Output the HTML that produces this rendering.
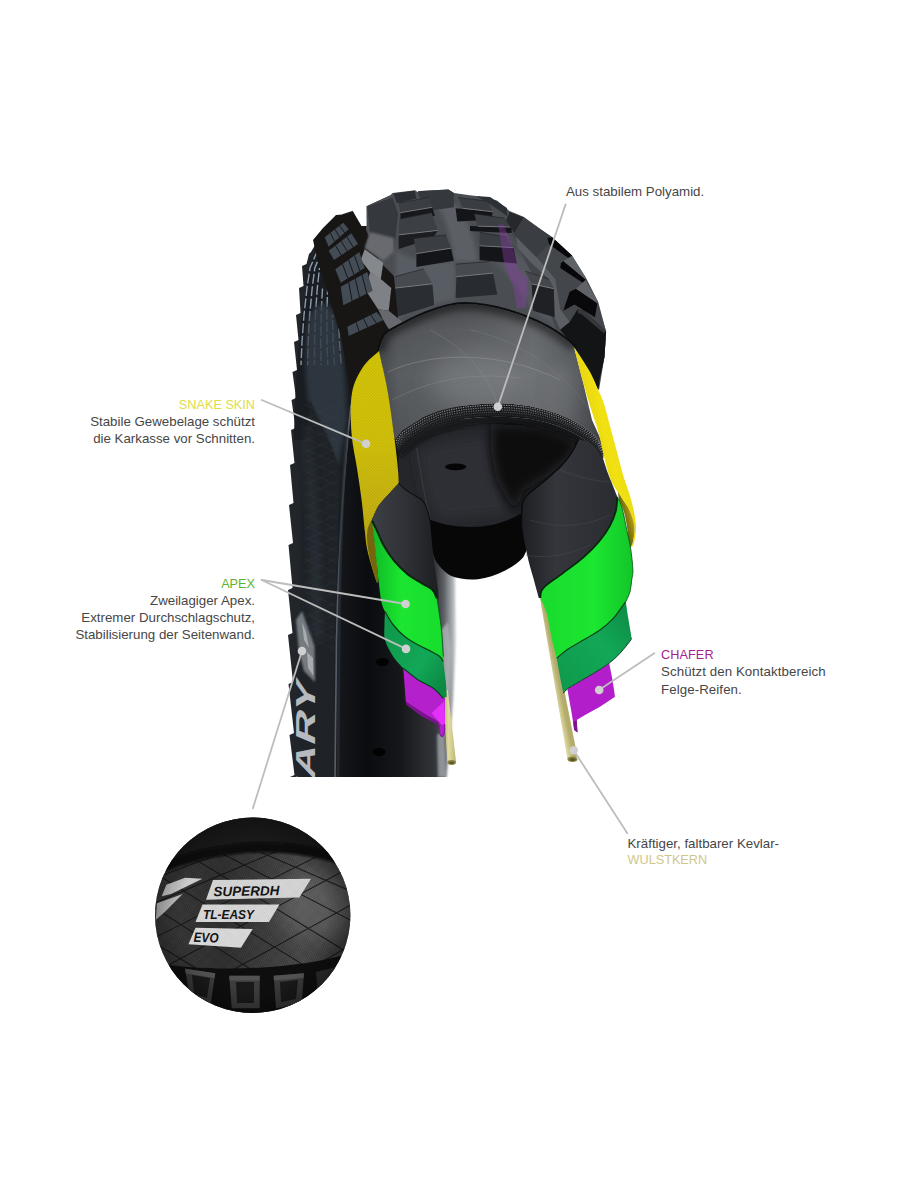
<!DOCTYPE html>
<html lang="de">
<head>
<meta charset="utf-8">
<title>Reifenaufbau</title>
<style>
html,body{margin:0;padding:0;background:#fff;}
#stage{position:relative;width:900px;height:1200px;overflow:hidden;background:#fff;font-family:"Liberation Sans",sans-serif;}
#stage svg{position:absolute;left:0;top:0;}
.lbl{position:absolute;font-size:13.3px;line-height:17.1px;color:#464646;white-space:nowrap;}
.r{text-align:right;}
.hd{display:block;font-size:12.7px;line-height:16.3px;}
</style>
</head>
<body>
<div id="stage">
<svg width="900" height="1200" viewBox="0 0 900 1200">
<defs>
<filter id="b1" x="-20%" y="-20%" width="140%" height="140%"><feGaussianBlur stdDeviation="1"/></filter>
<filter id="b2" x="-20%" y="-20%" width="140%" height="140%"><feGaussianBlur stdDeviation="2"/></filter>
<filter id="b3" x="-30%" y="-30%" width="160%" height="160%"><feGaussianBlur stdDeviation="3.5"/></filter>
<filter id="b6" x="-40%" y="-40%" width="180%" height="180%"><feGaussianBlur stdDeviation="6"/></filter>
<filter id="b10" x="-50%" y="-50%" width="200%" height="200%"><feGaussianBlur stdDeviation="10"/></filter>
<linearGradient id="gSide" x1="0" y1="0" x2="1" y2="0">
  <stop offset="0" stop-color="#23272c"/><stop offset="0.35" stop-color="#1a1d21"/><stop offset="1" stop-color="#131519"/>
</linearGradient>
<linearGradient id="gRim" gradientUnits="userSpaceOnUse" x1="335" y1="0" x2="445" y2="0">
  <stop offset="0" stop-color="#16181c"/><stop offset="0.3" stop-color="#0b0c0f"/><stop offset="0.6" stop-color="#16171a"/><stop offset="0.85" stop-color="#2e3034"/><stop offset="1" stop-color="#393b40"/>
</linearGradient>
<linearGradient id="gWallR" gradientUnits="userSpaceOnUse" x1="436" y1="0" x2="459" y2="0">
  <stop offset="0" stop-color="#34373c"/><stop offset="0.35" stop-color="#5f6368"/><stop offset="0.7" stop-color="#a9acb0"/><stop offset="0.95" stop-color="#f4f4f4"/><stop offset="1" stop-color="#fff"/>
</linearGradient>
<linearGradient id="gFadeR" x1="0" y1="0" x2="1" y2="0">
  <stop offset="0" stop-color="#fff" stop-opacity="0"/><stop offset="1" stop-color="#fff" stop-opacity="1"/>
</linearGradient>
<clipPath id="cBack"><path d="M390,195.500 L366,206.500 L343,214 L328,228 L312,242 L305,267 L301,307 L297,333 L294,364 L294,393 L292,464 L290,511 L290,549 L289,593 L287,629 L289,684 L290,777 L462,777 L462,300 Z"/></clipPath>
<linearGradient id="gCas" gradientUnits="userSpaceOnUse" x1="380" y1="0" x2="605" y2="0">
  <stop offset="0" stop-color="#4a4d51"/><stop offset="0.08" stop-color="#5c5f63"/><stop offset="0.4" stop-color="#686b6f"/><stop offset="0.68" stop-color="#74777a"/><stop offset="0.88" stop-color="#5e6165"/><stop offset="1" stop-color="#44474b"/>
</linearGradient>
<linearGradient id="gCasV" gradientUnits="userSpaceOnUse" x1="0" y1="300" x2="0" y2="450">
  <stop offset="0" stop-color="#000" stop-opacity=".3"/><stop offset="0.2" stop-color="#000" stop-opacity=".1"/><stop offset="0.5" stop-color="#000" stop-opacity="0"/><stop offset="1" stop-color="#000" stop-opacity=".12"/>
</linearGradient>
<pattern id="weave" width="2.4" height="3" patternUnits="userSpaceOnUse" patternTransform="rotate(35)">
  <rect width="3" height="3" fill="none"/><rect width="1.2" height="3" fill="#000" opacity=".06"/>
</pattern>
<pattern id="weaveY" width="3" height="3" patternUnits="userSpaceOnUse">
  <rect width="1.5" height="1.5" fill="#5c5800" opacity=".14"/><rect x="1.5" y="1.5" width="1.5" height="1.5" fill="#5c5800" opacity=".14"/>
</pattern>
<clipPath id="cCas"><path d="M379,351 C381,340 385,333 390,331 C410,320 440,304 465,304 C495,304 535,318 557,333 C566,339 571,343 574,347 L583,382 L592,420 L605,449 L604,455 L603.7,451.3 L598.3,439.3 L591.0,432.0 L582.3,426.0 L571.0,419.5 L558.3,414.0 L544.0,409.5 L529.0,406.0 L513.0,404.0 L497.0,403.3 L481.0,404.0 L465.0,405.5 L451.0,408.0 L438.3,411.3 L424.0,417.0 L411.7,424.7 L402.0,431.0 L395.7,439.3 L394.4,438 L388,393 L381,360Z"/></clipPath>
<linearGradient id="gYL" gradientUnits="userSpaceOnUse" x1="370" y1="350" x2="380" y2="580">
  <stop offset="0" stop-color="#d6c808"/><stop offset="0.4" stop-color="#d4c40a"/><stop offset="0.7" stop-color="#c8b412"/><stop offset="1" stop-color="#a8960f"/>
</linearGradient>
<linearGradient id="gYR" gradientUnits="userSpaceOnUse" x1="575" y1="400" x2="620" y2="390">
  <stop offset="0" stop-color="#e6d40e"/><stop offset="0.5" stop-color="#f6e614"/><stop offset="1" stop-color="#f0de10"/>
</linearGradient>
<linearGradient id="gGL" gradientUnits="userSpaceOnUse" x1="372" y1="0" x2="445" y2="0">
  <stop offset="0" stop-color="#10b826"/><stop offset="0.4" stop-color="#1be630"/><stop offset="1" stop-color="#17dc2c"/>
</linearGradient>
<linearGradient id="gGR" gradientUnits="userSpaceOnUse" x1="545" y1="0" x2="635" y2="0">
  <stop offset="0" stop-color="#19dc2e"/><stop offset="0.55" stop-color="#1be630"/><stop offset="1" stop-color="#12c428"/>
</linearGradient>
<linearGradient id="gDk" gradientUnits="userSpaceOnUse" x1="375" y1="0" x2="440" y2="0">
  <stop offset="0" stop-color="#3b3e43"/><stop offset="0.5" stop-color="#2e3035"/><stop offset="1" stop-color="#1c1d20"/>
</linearGradient>
<linearGradient id="gDkR" gradientUnits="userSpaceOnUse" x1="523" y1="0" x2="617" y2="0">
  <stop offset="0" stop-color="#1f2024"/><stop offset="0.35" stop-color="#34363b"/><stop offset="1" stop-color="#2a2c31"/>
</linearGradient>
<linearGradient id="gRod" x1="0" y1="0" x2="1" y2="0">
  <stop offset="0" stop-color="#b5ae6c"/><stop offset="0.45" stop-color="#e2dca2"/><stop offset="1" stop-color="#bdb674"/>
</linearGradient>
<clipPath id="cCirc"><circle cx="252.700" cy="915.200" r="97.700"/></clipPath>
<pattern id="carbon" width="2.4" height="2.4" patternUnits="userSpaceOnUse" patternTransform="rotate(-22)">
  <rect width="2.4" height="2.4" fill="none"/><rect width="1.2" height="1.2" fill="#000" opacity=".3"/><rect x="1.2" y="1.2" width="1.2" height="1.2" fill="#000" opacity=".3"/>
</pattern>
<linearGradient id="gWall" gradientUnits="userSpaceOnUse" x1="155" y1="0" x2="350" y2="0">
  <stop offset="0" stop-color="#464646"/><stop offset="0.35" stop-color="#3a3a3a"/><stop offset="0.75" stop-color="#585858"/><stop offset="1" stop-color="#444"/>
</linearGradient>
<radialGradient id="gVig" cx="252.700" cy="915.200" r="97.700" gradientUnits="userSpaceOnUse">
  <stop offset="0.75" stop-color="#000" stop-opacity="0"/><stop offset="1" stop-color="#000" stop-opacity=".28"/>
</radialGradient>
<linearGradient id="gDG" gradientUnits="userSpaceOnUse" x1="385" y1="640" x2="445" y2="680">
  <stop offset="0" stop-color="#0f9a4c"/><stop offset="0.6" stop-color="#12a858"/><stop offset="1" stop-color="#0c8a44"/>
</linearGradient>
<linearGradient id="gDGR" gradientUnits="userSpaceOnUse" x1="558" y1="680" x2="632" y2="620">
  <stop offset="0" stop-color="#0f9a4c"/><stop offset="0.6" stop-color="#12a858"/><stop offset="1" stop-color="#0e9048"/>
</linearGradient>
<linearGradient id="gRodR" gradientUnits="userSpaceOnUse" x1="548" y1="680" x2="558" y2="678">
  <stop offset="0" stop-color="#a8a163"/><stop offset="0.45" stop-color="#ddd7a0"/><stop offset="1" stop-color="#b3ac6c"/>
</linearGradient>
<linearGradient id="gOl" gradientUnits="userSpaceOnUse" x1="620" y1="520" x2="636" y2="516">
  <stop offset="0" stop-color="#4f4508"/><stop offset="0.6" stop-color="#9c8a10"/><stop offset="1" stop-color="#d9c418"/>
</linearGradient>

</defs>
<g id="backtire">
<path d="M390.0,195.5 L366.0,206.5 L343.0,214.0 L332.0,224.0 L330.0,226.0 L320.0,238.0 L318.0,240.0 L311.0,252.0 L309.0,254.0 L306.5,264.0 L302.0,266.0 L303.5,286.0 L299.0,288.0 L300.5,313.0 L296.0,315.0 L298.5,340.0 L294.0,342.0 L297.0,370.0 L292.5,372.0 L296.0,398.0 L291.5,400.0 L295.5,428.0 L291.0,430.0 L294.5,463.0 L290.0,465.0 L293.5,503.0 L289.0,505.0 L293.0,543.0 L288.5,545.0 L292.5,588.0 L288.0,590.0 L292.5,633.0 L288.0,635.0 L293.0,682.0 L288.5,684.0 L294.0,733.0 L289.5,735.0 L294.5,775.0 L290.0,777.0 L460.0,777.0 L460.0,560.0 L440.0,430.0 L420.0,300.0Z" fill="url(#gSide)"/>
<g clip-path="url(#cBack)">
<path d="M318,240 C304,280 296,350 294,440 L352,440 L352,404 L342,340 L330,300 L322,250Z" fill="#191d22"/>
<path d="M325.0,240.0 L316.0,254.0 L310.0,268.0 L307.0,288.0 L304.0,315.0 L302.0,342.0 L301.0,365.0" fill="none" stroke="#a3b3c2" stroke-width="1.4" stroke-dasharray="10 2.5" stroke-dashoffset="0" opacity=".85"/>
<path d="M320.5,254.0 L314.8,268.0 L312.2,288.0 L309.7,315.0 L308.2,342.0 L307.7,365.0" fill="none" stroke="#a3b3c2" stroke-width="1.4" stroke-dasharray="10 2.5" stroke-dashoffset="4" opacity=".85"/>
<path d="M319.5,268.0 L317.3,288.0 L315.4,315.0 L314.5,342.0 L314.4,365.0" fill="none" stroke="#a3b3c2" stroke-width="1.4" stroke-dasharray="10 2.5" stroke-dashoffset="8" opacity=".85"/>
<path d="M322.5,288.0 L321.1,315.0 L320.7,342.0 L321.1,365.0" fill="none" stroke="#a3b3c2" stroke-width="1.4" stroke-dasharray="10 2.5" stroke-dashoffset="12" opacity=".85"/>
<path d="M327.6,288.0 L326.8,315.0 L327.0,342.0 L327.8,365.0" fill="none" stroke="#a3b3c2" stroke-width="1.4" stroke-dasharray="10 2.5" stroke-dashoffset="16" opacity=".85"/>
<path d="M332.5,315.0 L333.2,342.0 L334.5,365.0" fill="none" stroke="#a3b3c2" stroke-width="1.4" stroke-dasharray="10 2.5" stroke-dashoffset="20" opacity=".85"/>
<path d="M338.2,315.0 L339.4,342.0 L341.2,365.0" fill="none" stroke="#a3b3c2" stroke-width="1.4" stroke-dasharray="10 2.5" stroke-dashoffset="24" opacity=".85"/>
<path d="M309,318 C316,300 326,300 334,312 C342,340 346,380 347,420 L338,468 C330,440 318,420 308,400 C304,370 305,340 309,318Z" fill="#333b44" filter="url(#b2)" opacity=".85"/>
<path d="M310,400 C318,420 330,440 340,470 C336,560 333,680 334,777 L302,777 C300,680 300,560 303,470Z" fill="#1f2327"/>
<path d="M306,420 C316,470 322,560 322,640 L312,640 C312,560 308,480 304,440Z" fill="#2c333a" opacity=".7" filter="url(#b3)"/>
<g stroke="#4b545e" stroke-width=".6" opacity=".3" fill="none">
<path d="M303,420 L338,404 M303,404 L338,420"/>
<path d="M303,431 L338,415 M303,415 L338,431"/>
<path d="M303,442 L338,426 M303,426 L338,442"/>
<path d="M303,453 L338,437 M303,437 L338,453"/>
<path d="M303,464 L338,448 M303,448 L338,464"/>
<path d="M303,475 L338,459 M303,459 L338,475"/>
<path d="M303,486 L338,470 M303,470 L338,486"/>
<path d="M303,497 L338,481 M303,481 L338,497"/>
<path d="M303,508 L338,492 M303,492 L338,508"/>
<path d="M303,519 L338,503 M303,503 L338,519"/>
<path d="M303,530 L338,514 M303,514 L338,530"/>
<path d="M303,541 L338,525 M303,525 L338,541"/>
<path d="M303,552 L338,536 M303,536 L338,552"/>
<path d="M303,563 L338,547 M303,547 L338,563"/>
<path d="M303,574 L338,558 M303,558 L338,574"/>
<path d="M303,585 L338,569 M303,569 L338,585"/>
<path d="M303,596 L338,580 M303,580 L338,596"/>
<path d="M303,607 L338,591 M303,591 L338,607"/>
<path d="M303,618 L338,602 M303,602 L338,618"/>
<path d="M303,629 L338,613 M303,613 L338,629"/>
<path d="M303,640 L338,624 M303,624 L338,640"/>
<path d="M303,651 L338,635 M303,635 L338,651"/>
</g>
<path d="M352,400 C346,450 339,540 336,640 L334.5,777 L462,777 L462,380 Z" fill="url(#gRim)"/>
<path d="M351,405 C345,460 339,540 336.5,640 L335,777" stroke="#59616b" stroke-width="1.7" fill="none" opacity=".95"/>
<path d="M347,430 C343,480 340,540 339,640 L338,777" stroke="#2b3037" stroke-width="3" fill="none" opacity=".7"/>
<ellipse cx="382.5" cy="662" rx="6.5" ry="4" fill="#020203"/>
<ellipse cx="379" cy="752" rx="6.5" ry="4" fill="#020203"/>
<path d="M296,620 L302,611 L308,628 L314.5,646 L315,682 L304,671 L299,652 Z" fill="#858a90" opacity=".85" filter="url(#b1)"/>
<path d="M302,622 L306,632 L309,648 L304,640Z M307,652 L313,658 L313.5,676 L308,668Z" fill="#b9bdc2" opacity=".75"/>
<text transform="translate(314.8,820) rotate(-90) scale(1.7,1) skewX(-14)" font-family="'Liberation Sans',sans-serif" font-weight="700" font-size="27.5" fill="#b6b9bd">MARY</text>
</g>
<rect x="434" y="560" width="32" height="217" fill="url(#gWallR)"/>
<path d="M441,630 L448,622 L451,650 L449,700 L444,690Z" fill="#b9bcc0" opacity=".7" filter="url(#b1)"/>
<path d="M437,735 L444,730 L446,777 L438,777Z" fill="#a9acb0" opacity=".7" filter="url(#b1)"/>
<path d="M455.500,572 L456.500,640 L453.500,700 L450,740 L446.500,779 L474,779 L474,572Z" fill="#fff" filter="url(#b1)"/>
<rect x="280" y="777" width="200" height="10" fill="#fff"/>
</g>
<g id="tread">
<path d="M390.0,195.5 L392.5,193.0 L415.0,190.3 L417.5,192.0 L419.0,191.0 L448.4,189.4 L454.0,193.0 L468.0,195.0 L476.0,196.0 L497.0,200.5 L509.5,211.0 L524.0,217.0 L552.5,238.5 L571.5,255.5 L585.8,280.0 L597.5,303.5 L606.1,331.4 L604.5,356.7 L599.7,378.9 L598.2,390.0 L590.0,372.0 L574.0,347.0 L557.0,333.0 L517.0,315.0 L465.0,304.0 L425.0,316.0 L390.0,331.0 L379.0,351.0 L372.0,340.0 L366.0,230.0 L366.0,206.5Z" fill="#4a4e53"/>
<path d="M396,250 C410,262 440,262 455,262 L456,300 C440,302 420,308 396,320 Z" fill="#595d63" filter="url(#b2)"/>
<path d="M436,205 C446,215 452,240 454,262 L478,262 C476,240 466,215 456,205Z" fill="#5c6066" filter="url(#b2)"/>
<path d="M494,262 C506,270 520,290 528,306 L560,330 L566,312 C550,290 530,262 512,250Z" fill="#54585e" filter="url(#b2)"/>
<path d="M509.5,212 L524,217.5 L552.2,237.2 L572,255.4 L586.3,278.4 L598.2,302.1 L606.1,331.4 L604.5,356.7 L599,390 L574.4,347.2 L557,331.4 L545,300 L520,250 L506,221Z" fill="#43464b"/>
<path d="M515.8,236.4 L536.4,257 L555.4,279.2 L560.2,309.2 L569.7,321.9 L560.2,329.8 L554.6,317.2 L553.8,288.7 L549.1,279.2 L531.7,263.3 L517.4,247.5Z" fill="#5b5e63"/>
<path d="M393.3,193.6 L414.7,190.8 L416.4,198.4 L396.9,202.9Z" fill="#2b2e32"/>
<path d="M418.2,191.3 L448.4,189.6 L453.8,193.1 L453.8,207.3 L434.2,210.0 L419.1,196.7Z" fill="#35383d"/>
<path d="M400.4,212.7 L432.4,207.3 L435.0,216.0 L400.5,219.0Z" fill="#17181b"/>
<path d="M398.7,202.9 L428.9,197.6 L432.4,207.3 L400.4,212.7Z" fill="#3b3e43"/>
<path d="M400.4,212.7 L432.4,207.3" stroke="#8a8e94" stroke-width=".9" opacity=".8"/>
<path d="M398.7,202.9 L428.9,197.6" stroke="#24262a" stroke-width=".9" opacity=".8"/>
<path d="M398.7,234.9 L437.8,230.4 L433.0,238.0 L398.7,249.0Z" fill="#1b1d20"/>
<path d="M399.6,218.9 L431.6,212.7 L437.8,230.4 L398.7,234.9Z" fill="#3c3f44"/>
<path d="M398.7,234.9 L437.8,230.4" stroke="#8a8e94" stroke-width=".9" opacity=".8"/>
<path d="M399.6,218.9 L431.6,212.7" stroke="#24262a" stroke-width=".9" opacity=".8"/>
<path d="M416.4,253.6 L451.1,248.2 L453.8,260.7 L416.4,266.9Z" fill="#141518"/>
<path d="M413.8,238.4 L445.8,234.9 L451.1,248.2 L416.4,253.6Z" fill="#3a3d42"/>
<path d="M416.4,253.6 L451.1,248.2" stroke="#8a8e94" stroke-width=".9" opacity=".8"/>
<path d="M413.8,238.4 L445.8,234.9" stroke="#24262a" stroke-width=".9" opacity=".8"/>
<path d="M394.2,288.2 L432.4,283.8 L434.2,305.1 L395.1,317.6Z" fill="#2a2d31"/>
<path d="M395.1,276.7 L423.6,268.7 L432.4,283.8 L394.2,288.2Z" fill="#474a4f"/>
<path d="M394.2,288.2 L432.4,283.8" stroke="#8a8e94" stroke-width=".9" opacity=".8"/>
<path d="M395.1,276.7 L423.6,268.7" stroke="#24262a" stroke-width=".9" opacity=".8"/>
<path d="M456.4,276.7 L492.9,273.1 L497.3,294.4 L455.6,298.0Z" fill="#282b2f"/>
<path d="M455.6,264.2 L489.3,261.6 L492.9,273.1 L456.4,276.7Z" fill="#474a4f"/>
<path d="M456.4,276.7 L492.9,273.1" stroke="#8a8e94" stroke-width=".9" opacity=".8"/>
<path d="M455.6,264.2 L489.3,261.6" stroke="#24262a" stroke-width=".9" opacity=".8"/>
<path d="M455.6,208.2 L492.9,211.8 L491.1,219.8 L457.3,221.6Z" fill="#141518"/>
<path d="M458.2,197.6 L487.6,201.1 L492.9,211.8 L462.7,208.2Z" fill="#3a3d42"/>
<path d="M462.7,208.2 L492.9,211.8" stroke="#8a8e94" stroke-width=".9" opacity=".8"/>
<path d="M458.2,197.6 L487.6,201.1" stroke="#24262a" stroke-width=".9" opacity=".8"/>
<path d="M470.0,226.0 L511.6,227.1 L511.6,233.0 L470.0,231.0Z" fill="#141518"/>
<path d="M474.2,213.8 L504.4,218.2 L511.6,227.1 L477.8,226.2Z" fill="#3c3f44"/>
<path d="M477.8,226.2 L511.6,227.1" stroke="#8a8e94" stroke-width=".9" opacity=".8"/>
<path d="M474.2,213.8 L504.4,218.2" stroke="#24262a" stroke-width=".9" opacity=".8"/>
<path d="M479.6,245.8 L513.3,247.6 L516.9,263.6 L479.6,260.0Z" fill="#141518"/>
<path d="M479.6,232.4 L506.2,236.9 L513.3,247.6 L479.6,245.8Z" fill="#3a3d42"/>
<path d="M479.6,245.8 L513.3,247.6" stroke="#8a8e94" stroke-width=".9" opacity=".8"/>
<path d="M479.6,232.4 L506.2,236.9" stroke="#24262a" stroke-width=".9" opacity=".8"/>
<path d="M531.7,283.9 L553.8,288.7 L554.6,317.2 L533.2,310.8Z" fill="#1f2124"/>
<path d="M525.3,271.2 L549.1,279.2 L553.8,288.7 L531.7,283.9Z" fill="#44474c"/>
<path d="M531.7,283.9 L553.8,288.7" stroke="#8a8e94" stroke-width=".9" opacity=".8"/>
<path d="M525.3,271.2 L549.1,279.2" stroke="#24262a" stroke-width=".9" opacity=".8"/>
<path d="M476.0,196.0 L490.0,197.0 L507.0,208.0 L507.0,216.0 L490.0,204.0Z" fill="#2d3034"/>
<path d="M509.5,211.9 L523.7,217.4 L514.2,233.2 L506.3,220.6Z" fill="#26282c"/>
<path d="M523.7,218.2 L552.2,237.2 L549.0,244.3 L536.4,257.0 L514.2,234.8Z" fill="#3a3d42"/>
<path d="M547.5,238 L552.2,237.2 L572,255.4 L570.4,259.4 L549,244.3Z" fill="#07070a"/>
<path d="M561,263.3 L563.3,261 L585.5,279.2 L584.7,283.9 L560.2,268Z" fill="#07070a"/>
<path d="M569.7,291.8 L576,288.7 L597.4,302.9 L595,317.2 L574.4,304.5 L563.3,310.8Z" fill="#09090b"/>
<path d="M563.3,261 L572,255.7 L586.3,278.4 L585.5,279.5Z" fill="#5f6267"/>
<path d="M576,288.7 L585.5,280 L598.2,302.1 L597.4,303.2Z" fill="#5f6267"/>
<path d="M577.6,309.2 L583.9,310.8 L606.1,331.4 L604.5,356.7 L599.7,378.9 L598.2,390.0 L590.0,372.0 L574.4,347.2 L560.2,329.8 L569.7,321.9Z" fill="#131416"/>
<path d="M577.6,309.2 L583.9,310.8 L606.1,331.4 L603.5,333 L582,314.5 L578,313Z" fill="#34373b"/>
<path d="M366,206.5 L349,214 L336,215 L323,228 L313,240 L318,262 L330,300 L342,340 L352,404 L372,372 L379,351 L390,331 L398,318 L394,276 L380,262 L366,230Z" fill="#181614"/>
<path d="M367.3,206.5 L392.4,197.5 L398.0,213.3 L394.0,252.0 L383.3,261.3 L364.7,248.0 L370.0,232.0Z" fill="#35383d"/>
<path d="M370,232 L394,238 L394,252 L383.3,261.3 L364.7,248Z" fill="#74777b" opacity=".8" filter="url(#b1)"/>
<path d="M364.7,249.3 L383.3,262.7 L380.7,280.0 L370.0,272.0 L360.7,260.0Z" fill="#85888c"/>
<path d="M370.0,272.0 L382.0,280.0 L391.3,288.0 L388.7,310.7 L378.0,309.3 L366.0,290.7Z" fill="#7e8185"/>
<path d="M378.0,309.3 L388.7,310.7 L410.0,328.0 L391.3,333.3 L383.3,320.0Z" fill="#666a6e"/>
<path d="M324.7,237.3 L343.3,222.7 L348.7,229.3 L328.7,246.7Z" fill="#434b55"/>
<path d="M330.3,232.9 L334.7,241.5" stroke="#15181c" stroke-width="1"/>
<path d="M334.9,229.3 L339.7,237.1" stroke="#15181c" stroke-width="1"/>
<path d="M339.6,225.6 L344.7,232.8" stroke="#15181c" stroke-width="1"/>
<path d="M328.7,250.7 L351.3,233.3 L358.0,244.0 L334.0,260.0Z" fill="#434b55"/>
<path d="M335.5,245.5 L341.2,255.2" stroke="#15181c" stroke-width="1"/>
<path d="M341.1,241.1 L347.2,251.2" stroke="#15181c" stroke-width="1"/>
<path d="M346.8,236.8 L353.2,247.2" stroke="#15181c" stroke-width="1"/>
<path d="M335.3,269.3 L359.3,252.0 L364.7,268.0 L340.7,282.7Z" fill="#434b55"/>
<path d="M342.5,264.1 L347.9,278.3" stroke="#15181c" stroke-width="1"/>
<path d="M348.5,259.8 L353.9,274.6" stroke="#15181c" stroke-width="1"/>
<path d="M354.5,255.5 L359.9,270.9" stroke="#15181c" stroke-width="1"/>
<path d="M340.7,286.7 L367.3,272.0 L372.7,290.7 L343.3,305.3Z" fill="#434b55"/>
<path d="M348.7,282.3 L352.1,300.9" stroke="#15181c" stroke-width="1"/>
<path d="M355.3,278.6 L359.5,297.3" stroke="#15181c" stroke-width="1"/>
<path d="M362.0,274.9 L366.8,293.6" stroke="#15181c" stroke-width="1"/>
<path d="M347.3,326.7 L376.7,312.0 L383.3,320.0 L348.7,336.0Z" fill="#434b55"/>
<path d="M356.1,322.3 L359.1,331.2" stroke="#15181c" stroke-width="1"/>
<path d="M363.5,318.6 L367.7,327.2" stroke="#15181c" stroke-width="1"/>
<path d="M370.8,314.9 L376.4,323.2" stroke="#15181c" stroke-width="1"/>
<path d="M351,208 L366.4,202 L366.6,226 L361.5,226Z" fill="#fff"/>
<path d="M498.2,224.4 L503.6,224.4 L511.6,244 L518.7,268.9 L527.6,279.6 L525.8,308 L516.9,308 L513.3,286.7 L504.4,265.3 L500.9,242.2Z" fill="#8b3fa6" opacity=".42"/>
<path d="M379,351 C381,340 385,333 390,331 C410,320 440,304 465,304 C495,304 535,318 557,333 C566,339 571,343 574,347" fill="none" stroke="#0c0d0f" stroke-width="4" stroke-linecap="round"/>
</g>
<g id="casing">
<g clip-path="url(#cCas)">
  <rect x="370" y="295" width="245" height="175" fill="url(#gCas)"/>
  <rect x="370" y="295" width="245" height="175" fill="url(#weave)"/>
  <rect x="370" y="295" width="245" height="175" fill="url(#gCasV)"/>
  <path d="M379,351 C381,340 385,333 390,331 C410,320 440,304 465,304 C495,304 535,318 557,333 C566,339 571,343 574,347" fill="none" stroke="#000" stroke-width="12" opacity=".45" filter="url(#b3)"/>
  <path d="M388,372 C430,352 500,350 560,380" stroke="#a3a6a9" stroke-width=".8" fill="none" opacity=".5"/>
  <path d="M392,400 C430,380 470,372 520,378" stroke="#a3a6a9" stroke-width=".8" fill="none" opacity=".35"/>
  <path d="M470,330 C520,340 560,370 590,410" stroke="#8b8e92" stroke-width=".8" fill="none" opacity=".35"/>
  <path d="M430,330 C470,350 490,380 497,403" stroke="#a3a6a9" stroke-width=".8" fill="none" opacity=".3"/>
  <ellipse cx="475" cy="380" rx="45" ry="28" fill="#8d9093" opacity=".35" filter="url(#b10)"/>
  <ellipse cx="560" cy="395" rx="16" ry="30" fill="#7b7e82" opacity=".3" filter="url(#b6)"/>
</g>
<!-- polyamide fabric edge (elliptical cut) -->
<path d="M395.7,439.3 L402.0,431.0 L411.7,424.7 L424.0,417.0 L438.3,411.3 L451.0,408.0 L465.0,405.5 L481.0,404.0 L497.0,403.3 L513.0,404.0 L529.0,406.0 L544.0,409.5 L558.3,414.0 L571.0,419.5 L582.3,426.0 L591.0,432.0 L598.3,439.3 L603.7,451.3 L603.0,460.0 L595.7,448.7 L590.0,443.5 L582.3,438.0 L571.0,431.5 L558.3,426.0 L544.0,421.8 L529.0,418.8 L513.0,417.2 L497.0,416.7 L481.0,417.2 L465.0,418.8 L451.0,421.2 L438.3,424.7 L426.0,430.0 L414.3,436.7 L405.0,444.0 L398.3,452.7Z" fill="#1b1c1e"/>
<path d="M396.0,440.9 L402.4,432.6 L412.0,426.1 L424.2,418.6 L438.3,412.9 L451.0,409.6 L465.0,407.1 L481.0,405.6 L497.0,404.9 L513.0,405.6 L529.0,407.5 L544.0,411.0 L558.3,415.4 L571.0,420.9 L582.3,427.4 L590.9,433.4 L598.0,440.4 L603.6,452.3" fill="none" stroke="#9a9c9f" stroke-width="1.1" stroke-dasharray="1.3 1.1" opacity="0.9"/>
<path d="M396.5,443.3 L402.9,434.9 L412.5,428.3 L424.6,420.9 L438.3,415.3 L451.0,412.0 L465.0,409.5 L481.0,408.0 L497.0,407.3 L513.0,408.0 L529.0,409.8 L544.0,413.2 L558.3,417.6 L571.0,423.1 L582.3,429.6 L590.7,435.4 L597.5,442.1 L603.5,453.9" fill="none" stroke="#8a8c8f" stroke-width="1.1" stroke-dasharray="1.3 1.1" opacity="0.85"/>
<path d="M396.9,445.7 L403.4,437.2 L412.9,430.5 L425.0,423.2 L438.3,417.7 L451.0,414.3 L465.0,411.9 L481.0,410.3 L497.0,409.7 L513.0,410.3 L529.0,412.1 L544.0,415.4 L558.3,419.8 L571.0,425.3 L582.3,431.8 L590.5,437.5 L597.1,443.8 L603.4,455.5" fill="none" stroke="#77797c" stroke-width="1.1" stroke-dasharray="1.2 1.2" opacity="0.8"/>
<path d="M397.4,448.1 L404.0,439.6 L413.4,432.6 L425.3,425.6 L438.3,420.1 L451.0,416.7 L465.0,414.3 L481.0,412.7 L497.0,412.1 L513.0,412.7 L529.0,414.4 L544.0,417.6 L558.3,421.9 L571.0,427.4 L582.3,433.9 L590.3,439.6 L596.6,445.5 L603.2,457.0" fill="none" stroke="#5d5f62" stroke-width="1.1" stroke-dasharray="1 1.2" opacity="0.8"/>
<path d="M397.9,450.6 L404.5,441.9 L413.9,434.8 L425.7,427.9 L438.3,422.6 L451.0,419.1 L465.0,416.7 L481.0,415.1 L497.0,414.6 L513.0,415.1 L529.0,416.8 L544.0,419.8 L558.3,424.1 L571.0,429.6 L582.3,436.1 L590.2,441.7 L596.1,447.2 L603.1,458.6" fill="none" stroke="#4a4c4f" stroke-width="1.1" stroke-dasharray="1 1.4" opacity="0.7"/>
</g>

<g id="inner">
<path d="M398.3,452.7 L405.0,444.0 L414.3,436.7 L426.0,430.0 L438.3,424.7 L451.0,421.2 L465.0,418.8 L481.0,417.2 L497.0,416.7 L513.0,417.2 L529.0,418.8 L544.0,421.8 L558.3,426.0 L571.0,431.5 L582.3,438.0 L590.0,443.5 L595.7,448.7 L603.0,460.0 L604,462 L600,480 L560,520 L528,550 L431,545 L428,521 L399,484Z" fill="#24262a"/>
<!-- lighter tube surface, centre-left -->
<path d="M418,452 C440,440 470,436 492,438 C496,460 500,490 512,514 L440,520 L430,505 C424,490 420,470 418,452Z" fill="#2d2f34" filter="url(#b6)"/>
<!-- deep shadow on the right under the fabric edge -->
<path d="M491.3,424 L540,426 L576.7,440 L574,453.3 L550,474.7 L523.3,490.7 L515.3,514 L496.7,480 L491.3,453.3Z" fill="#0c0d0f" filter="url(#b6)"/>
<!-- thin shadow right below the fabric edge -->
<path d="M400,456 C420,432 460,420 497,420 C540,420 580,436 600,458" fill="none" stroke="#0d0e10" stroke-width="5" opacity=".8" filter="url(#b2)"/>
<path d="M416.700,448 C420,470 424,495 430,517" fill="none" stroke="#3d3f44" stroke-width="1.2" opacity=".8"/>
<ellipse cx="455.7" cy="466.8" rx="10.7" ry="3.4" fill="#050506"/>
<!-- black tube cross section -->
<path d="M428.400,519 C440,524 455,527 470,527 C485,527 505,524 523.3,512 L528.700,544 C527,550 525,554 523.3,557.300 C518,563 512,567 504.700,570.700 C496,575 487,578 478,579.200 C468,580 459,579 451.300,576 C444,572 439,566 435.300,560 C433,554 431.600,549 431,544.600Z" fill="#070708"/>
</g>

<g id="leftstrips">
<path d="M379.0,351.0 C376.3,353.7 367.5,360.0 363.0,367.0 C358.5,374.0 353.9,382.0 352.0,393.0 C350.1,404.0 350.6,420.2 351.5,433.0 C352.4,445.8 355.6,458.3 357.3,470.0 C359.1,481.7 360.8,493.3 362.0,503.3 C363.2,513.3 363.8,522.2 364.7,530.0 C365.6,537.8 365.8,542.7 367.3,550.0 C368.9,557.3 372.3,568.5 374.0,574.0 C375.7,579.5 376.8,581.8 377.3,583.3 L377.0,565.0 C376.5,560.3 374.8,544.1 374.0,536.7 C373.2,529.3 372.1,524.0 372.0,520.7 C371.9,517.4 372.1,519.4 373.3,516.7 C374.5,514.0 376.5,508.7 379.3,504.7 C382.1,500.7 386.8,496.3 390.0,492.7 C393.2,489.1 397.2,484.9 398.7,483.3 L398.7,483.3 C398.6,481.1 398.7,477.6 398.0,470.0 C397.3,462.4 396.1,450.8 394.4,438.0 C392.7,425.2 390.2,406.0 388.0,393.0 C385.8,380.0 382.5,367.0 381.0,360.0 C379.5,353.0 379.3,352.5 379.0,351.0Z" fill="url(#gYL)"/>
<path d="M379.0,351.0 C376.3,353.7 367.5,360.0 363.0,367.0 C358.5,374.0 353.9,382.0 352.0,393.0 C350.1,404.0 350.6,420.2 351.5,433.0 C352.4,445.8 355.6,458.3 357.3,470.0 C359.1,481.7 360.8,493.3 362.0,503.3 C363.2,513.3 363.8,522.2 364.7,530.0 C365.6,537.8 365.8,542.7 367.3,550.0 C368.9,557.3 372.3,568.5 374.0,574.0 C375.7,579.5 376.8,581.8 377.3,583.3 L377.0,565.0 C376.5,560.3 374.8,544.1 374.0,536.7 C373.2,529.3 372.1,524.0 372.0,520.7 C371.9,517.4 372.1,519.4 373.3,516.7 C374.5,514.0 376.5,508.7 379.3,504.7 C382.1,500.7 386.8,496.3 390.0,492.7 C393.2,489.1 397.2,484.9 398.7,483.3 L398.7,483.3 C398.6,481.1 398.7,477.6 398.0,470.0 C397.3,462.4 396.1,450.8 394.4,438.0 C392.7,425.2 390.2,406.0 388.0,393.0 C385.8,380.0 382.5,367.0 381.0,360.0 C379.5,353.0 379.3,352.5 379.0,351.0Z" fill="url(#weaveY)"/>
<path d="M373.3,516.7 C372.3,518.9 368.4,524.8 367.5,530.0 C366.6,535.2 366.9,540.7 368.0,548.0 C369.1,555.3 372.4,568.1 374.0,574.0 C375.6,579.9 376.8,581.8 377.3,583.3 L378.5,580.0 C378.2,577.2 377.4,570.5 376.7,563.3 C375.9,556.1 374.8,543.8 374.0,536.7 C373.2,529.6 372.3,523.4 372.0,520.7Z" fill="#75650d"/>
<path d="M398.7,483.3 C399.9,484.4 403.0,487.8 406.0,490.0 C409.0,492.2 413.9,494.9 416.7,496.7 C419.5,498.5 420.9,498.5 422.7,500.7 C424.5,502.9 426.1,506.7 427.3,510.0 C428.5,513.3 429.6,518.9 430.0,520.7 L430.0,520.7 C430.4,525.6 431.8,541.8 432.7,550.0 C433.6,558.2 434.4,563.3 435.3,570.0 C436.2,576.7 437.5,585.0 438.0,590.0 C438.5,595.0 438.4,598.3 438.5,600.0 L436.7,598.0 C436.0,596.7 435.1,592.5 432.7,590.0 C430.2,587.5 426.2,586.0 422.0,583.3 C417.8,580.6 412.0,577.8 407.3,574.0 C402.6,570.2 398.0,565.6 394.0,560.7 C390.0,555.8 386.2,549.8 383.3,544.7 C380.4,539.6 378.6,534.0 376.7,530.0 C374.8,526.0 372.8,522.2 372.0,520.7 L372.0,520.7 C372.2,520.0 372.1,519.4 373.3,516.7 C374.5,514.0 376.5,508.7 379.3,504.7 C382.1,500.7 386.8,496.3 390.0,492.7 C393.2,489.1 397.2,484.9 398.7,483.3Z" fill="url(#gDk)"/>
<path d="M398.7,483.3 C399.9,484.4 403.0,487.8 406.0,490.0 C409.0,492.2 413.9,494.9 416.7,496.7 C419.5,498.5 420.9,498.5 422.7,500.7 C424.5,502.9 426.1,506.7 427.3,510.0 C428.5,513.3 429.6,518.9 430.0,520.7" fill="none" stroke="#101113" stroke-width="1.2"/>
<path d="M442.8,690 L447.8,690 L456,761.5 L447.4,763Z" fill="url(#gRod)"/>
<ellipse cx="451.7" cy="762.5" rx="4.3" ry="2.4" fill="#8a8444"/><ellipse cx="451.7" cy="762.7" rx="2.6" ry="1.3" fill="#5d5828"/>
<path d="M403.3,668.3 L405.8,701.7 L423.3,713.3 L438.3,721.7 L440.0,730.0 L441.0,737.0 L444.0,735.0 L445.0,723.3 L445.0,698.0 L433.3,688.3 L418.3,680.0Z" fill="#b421cc"/>
<path d="M431.7,713.300 L444.300,701 L445,724 L441.700,725Z" fill="#e530fa"/>
<path d="M405.8,701.7 L423.3,713.3 L438.3,721.7 L440,730 L437,724 L422,716.5 L406.5,705Z" fill="#7d1390"/>
<path d="M440,724 C438.500,730 439.500,736 442.500,736.500 C444.500,735 444.800,729 444.600,724" fill="none" stroke="#8a16a0" stroke-width="1.2"/>
<path d="M385.0,611.7 C384.9,613.9 384.5,620.3 384.5,625.0 C384.5,629.7 383.5,634.7 385.0,640.0 C386.5,645.3 390.2,652.0 393.3,656.7 C396.4,661.4 401.6,666.4 403.3,668.3 L403.3,668.3 C405.8,670.2 413.3,676.7 418.3,680.0 C423.3,683.3 429.1,685.2 433.3,688.3 C437.5,691.3 441.6,696.6 443.3,698.3 L446.7,696.7 C446.6,694.2 446.4,687.5 445.8,681.7 C445.2,675.9 443.7,665.0 443.3,661.7 L443.3,661.7 C442.8,660.9 441.9,658.4 440.0,656.7 C438.1,655.0 435.3,653.7 431.7,651.7 C428.1,649.8 422.8,647.5 418.3,645.0 C413.9,642.5 409.2,640.0 405.0,636.7 C400.8,633.4 396.6,629.2 393.3,625.0 C390.0,620.8 386.4,613.9 385.0,611.7Z" fill="url(#gDG)"/>
<path d="M403.3,668.3 C405.8,670.2 413.3,676.7 418.3,680.0 C423.3,683.3 429.1,685.2 433.3,688.3 C437.5,691.3 441.6,696.6 443.3,698.3" fill="none" stroke="#06401e" stroke-width="1.2"/>
<path d="M372.0,520.7 C372.3,523.4 373.2,529.6 374.0,536.7 C374.8,543.8 375.8,554.9 376.7,563.3 C377.6,571.7 378.5,580.6 379.3,587.3 C380.1,594.0 380.8,599.2 381.7,603.3 C382.6,607.4 384.4,610.3 385.0,611.7 L385.0,611.7 C386.4,613.9 390.0,620.8 393.3,625.0 C396.6,629.2 400.8,633.4 405.0,636.7 C409.2,640.0 413.9,642.5 418.3,645.0 C422.8,647.5 428.1,649.8 431.7,651.7 C435.3,653.7 438.1,655.0 440.0,656.7 C441.9,658.4 442.8,660.9 443.3,661.7 L443.3,656.7 C443.0,652.5 442.5,640.0 441.7,631.7 C440.9,623.4 439.1,612.3 438.3,606.7 C437.5,601.1 437.0,599.5 436.7,598.0 L436.7,598.0 C436.0,596.7 435.1,592.5 432.7,590.0 C430.2,587.5 426.2,586.0 422.0,583.3 C417.8,580.6 412.0,577.8 407.3,574.0 C402.6,570.2 398.0,565.6 394.0,560.7 C390.0,555.8 386.2,549.8 383.3,544.7 C380.4,539.6 378.6,534.0 376.7,530.0 C374.8,526.0 372.8,522.2 372.0,520.7Z" fill="url(#gGL)"/>
<path d="M436.7,598.0 C436.0,596.7 435.1,592.5 432.7,590.0 C430.2,587.5 426.2,586.0 422.0,583.3 C417.8,580.6 412.0,577.8 407.3,574.0 C402.6,570.2 398.0,565.6 394.0,560.7 C390.0,555.8 386.2,549.8 383.3,544.7 C380.4,539.6 378.6,534.0 376.7,530.0 C374.8,526.0 372.8,522.2 372.0,520.7" fill="none" stroke="#08260c" stroke-width="2"/>
<path d="M385.0,611.7 C386.4,613.9 390.0,620.8 393.3,625.0 C396.6,629.2 400.8,633.4 405.0,636.7 C409.2,640.0 413.9,642.5 418.3,645.0 C422.8,647.5 428.1,649.8 431.7,651.7 C435.3,653.7 438.1,655.0 440.0,656.7 C441.9,658.4 442.8,660.9 443.3,661.7" fill="none" stroke="#0a4216" stroke-width="1.3"/>
<path d="M443.3,656.7 C443.0,652.5 442.5,640.0 441.7,631.7 C440.9,623.4 439.1,612.3 438.3,606.7 C437.5,601.1 437.0,599.5 436.7,598.0" fill="none" stroke="#0c5a1c" stroke-width="1"/>
</g>
<g id="rightstrips">
<path d="M539.6,596 L545.6,596 L577.5,756.7 L567.5,759Z" fill="url(#gRodR)"/>
<ellipse cx="572.5" cy="759.2" rx="4.9" ry="2.7" fill="#8a8444"/><ellipse cx="572.6" cy="759.4" rx="3" ry="1.5" fill="#5d5828"/>
<path d="M578.4,439.3 C577.4,441.4 575.1,447.4 572.2,451.8 C569.4,456.2 566.0,460.9 561.3,465.8 C556.6,470.7 549.6,476.6 544.2,481.3 C538.8,486.0 532.3,490.2 528.7,493.8 C525.1,497.4 523.6,498.2 522.4,503.1 C521.2,508.0 520.9,514.8 521.7,523.3 C522.5,531.8 525.2,545.3 527.1,554.4 C529.0,563.5 531.3,570.5 533.3,577.8 C535.2,585.1 537.9,594.6 538.8,598.0 L540.3,598.0 C540.4,597.0 540.2,593.9 541.1,591.8 C542.0,589.7 542.2,588.7 545.8,585.6 C549.4,582.5 556.7,577.8 562.9,573.1 C569.1,568.4 577.1,562.8 583.1,557.6 C589.1,552.4 594.3,547.2 598.7,542.0 C603.1,536.8 606.8,531.6 609.6,526.4 C612.5,521.2 614.5,515.8 615.8,510.9 C617.1,506.0 617.0,499.2 617.3,496.9 L617.3,496.9 C616.8,495.6 615.8,493.0 614.2,489.1 C612.7,485.2 610.1,479.1 608.0,473.6 C605.9,468.2 604.6,461.3 601.8,456.4 C598.9,451.5 594.8,446.9 590.9,444.0 C587.0,441.1 580.5,440.1 578.4,439.3Z" fill="url(#gDkR)"/>
<path d="M578.4,439.3 C577.4,441.4 575.1,447.4 572.2,451.8 C569.4,456.2 566.0,460.9 561.3,465.8 C556.6,470.7 549.6,476.6 544.2,481.3 C538.8,486.0 532.3,490.2 528.7,493.8 C525.1,497.4 523.6,498.2 522.4,503.1 C521.2,508.0 521.8,519.9 521.7,523.3" fill="none" stroke="#0b0b0d" stroke-width="1.5"/>
<g fill="none" stroke="#4a4c52" stroke-width=".7" opacity=".7"><path d="M560,470 C580,478 600,482 612,482"/><path d="M530,520 C560,530 590,525 610,515"/><path d="M526,555 C550,560 575,552 590,545"/></g>
<path d="M574.0,347.0 C575.5,352.8 580.0,371.2 583.0,382.0 C586.0,392.8 589.5,404.0 592.0,412.0 C594.5,420.0 596.0,423.1 597.9,430.0 C599.8,436.9 601.3,445.5 603.3,453.3 C605.2,461.1 607.5,470.7 609.6,476.7 C611.7,482.7 613.7,485.5 615.8,489.1 C617.9,492.7 619.7,494.8 622.0,498.4 C624.3,502.0 627.7,506.2 629.8,510.9 C631.9,515.6 633.9,521.2 634.4,526.4 C634.9,531.6 633.7,538.4 632.9,542.0 C632.1,545.6 630.3,547.2 629.8,548.2 L633.7,545.1 C634.1,542.5 635.9,534.8 636.0,529.6 C636.1,524.4 635.4,519.7 634.4,514.0 C633.4,508.3 631.6,501.5 629.8,495.3 C628.0,489.1 625.7,483.7 623.6,476.7 C621.5,469.7 619.4,461.1 617.3,453.3 C615.2,445.5 613.3,438.2 611.1,430.0 C608.9,421.8 606.1,410.7 604.0,404.0 C601.9,397.3 599.2,392.3 598.2,390.0 L598.2,390.0 C596.8,387.0 594.0,379.2 590.0,372.0 C586.0,364.8 576.7,351.2 574.0,347.0Z" fill="url(#gYR)"/>
<path d="M574.0,347.0 C575.5,352.8 580.0,371.2 583.0,382.0 C586.0,392.8 589.5,404.0 592.0,412.0 C594.5,420.0 596.0,423.1 597.9,430.0 C599.8,436.9 601.3,445.5 603.3,453.3 C605.2,461.1 607.5,470.7 609.6,476.7 C611.7,482.7 613.7,485.5 615.8,489.1 C617.9,492.7 619.7,494.8 622.0,498.4 C624.3,502.0 627.7,506.2 629.8,510.9 C631.9,515.6 633.9,521.2 634.4,526.4 C634.9,531.6 633.7,538.4 632.9,542.0 C632.1,545.6 630.3,547.2 629.8,548.2 L633.7,545.1 C634.1,542.5 635.9,534.8 636.0,529.6 C636.1,524.4 635.4,519.7 634.4,514.0 C633.4,508.3 631.6,501.5 629.8,495.3 C628.0,489.1 625.7,483.7 623.6,476.7 C621.5,469.7 619.4,461.1 617.3,453.3 C615.2,445.5 613.3,438.2 611.1,430.0 C608.9,421.8 606.1,410.7 604.0,404.0 C601.9,397.3 599.2,392.3 598.2,390.0 L598.2,390.0 C596.8,387.0 594.0,379.2 590.0,372.0 C586.0,364.8 576.7,351.2 574.0,347.0Z" fill="url(#weaveY)" opacity=".5"/>
<path d="M618.0,492.0 C618.7,493.1 620.0,495.2 622.0,498.4 C624.0,501.5 627.7,506.2 629.8,510.9 C631.9,515.6 633.9,521.2 634.4,526.4 C634.9,531.6 633.7,538.4 632.9,542.0 C632.1,545.6 630.3,547.2 629.8,548.2 L628.5,546.0 C628.3,543.3 628.2,535.7 627.5,530.0 C626.8,524.3 625.4,517.0 624.0,512.0 C622.6,507.0 619.8,502.0 619.0,500.0Z" fill="url(#gOl)"/>
<path d="M567.5,690 L568.3,688.3 L585,678.3 L601.7,668.3 L609.2,663.3 L612.5,680 L615,696.7 L600,706.7 L585,715 L576.7,720 L577.5,732.5 L574.2,730 L571.7,713.3Z" fill="#b21fca"/>
<path d="M576.7,720 L577.5,732.5 L574.2,730 L573.2,722Z" fill="#7d1390"/>
<path d="M556.7,658.3 C557.2,661.4 558.9,670.9 560.0,676.7 C561.1,682.5 562.8,690.5 563.3,693.3 L563.3,693.3 C564.1,692.5 564.7,690.8 568.3,688.3 C571.9,685.8 579.4,681.6 585.0,678.3 C590.6,675.0 596.4,671.9 601.7,668.3 C607.0,664.7 612.3,660.9 616.7,656.7 C621.1,652.5 625.8,646.4 628.3,643.3 C630.8,640.2 631.1,639.1 631.7,638.3 L631.7,638.3 C631.1,635.0 629.3,624.4 628.3,618.3 C627.3,612.2 626.2,604.5 625.8,601.7 L625.8,601.7 C625.4,602.2 625.4,602.2 623.3,605.0 C621.2,607.8 617.2,614.1 613.3,618.3 C609.4,622.5 605.0,626.4 600.0,630.0 C595.0,633.6 588.8,636.7 583.3,640.0 C577.8,643.3 571.1,647.0 566.7,650.0 C562.3,653.0 558.4,656.9 556.7,658.3Z" fill="url(#gDGR)"/>
<path d="M563.3,693.3 C564.1,692.5 564.7,690.8 568.3,688.3 C571.9,685.8 579.4,681.6 585.0,678.3 C590.6,675.0 596.4,671.9 601.7,668.3 C607.0,664.7 612.3,660.9 616.7,656.7 C621.1,652.5 625.8,646.4 628.3,643.3 C630.8,640.2 631.1,639.1 631.7,638.3" fill="none" stroke="#06401e" stroke-width="1"/>
<path d="M617.3,496.9 C617.0,499.2 617.1,506.0 615.8,510.9 C614.5,515.8 612.5,521.2 609.6,526.4 C606.8,531.6 603.1,536.8 598.7,542.0 C594.3,547.2 589.1,552.4 583.1,557.6 C577.1,562.8 569.1,568.4 562.9,573.1 C556.7,577.8 549.4,582.5 545.8,585.6 C542.2,588.7 542.0,589.7 541.1,591.8 C540.2,593.9 540.4,597.0 540.3,598.0 L540.3,598.0 C541.4,600.5 544.8,606.6 546.7,613.3 C548.6,620.0 550.0,630.8 551.7,638.3 C553.4,645.8 555.9,655.0 556.7,658.3 L556.7,658.3 C558.4,656.9 562.3,653.0 566.7,650.0 C571.1,647.0 577.8,643.3 583.3,640.0 C588.8,636.7 595.0,633.6 600.0,630.0 C605.0,626.4 609.4,622.5 613.3,618.3 C617.2,614.1 621.2,607.8 623.3,605.0 C625.4,602.2 625.4,602.2 625.8,601.7 L625.8,601.7 C626.5,600.0 629.0,595.3 630.0,591.7 C631.0,588.1 631.2,583.6 631.7,580.0 C632.2,576.4 633.1,575.3 632.9,570.0 C632.7,564.7 631.6,554.9 630.6,548.2 C629.6,541.5 628.1,536.3 626.7,529.6 C625.3,522.9 623.6,513.2 622.0,507.8 C620.4,502.4 618.1,498.7 617.3,496.9Z" fill="url(#gGR)"/>
<path d="M617.3,496.9 C617.0,499.2 617.1,506.0 615.8,510.9 C614.5,515.8 612.5,521.2 609.6,526.4 C606.8,531.6 603.1,536.8 598.7,542.0 C594.3,547.2 589.1,552.4 583.1,557.6 C577.1,562.8 569.1,568.4 562.9,573.1 C556.7,577.8 549.4,582.5 545.8,585.6 C542.2,588.7 542.0,589.7 541.1,591.8 C540.2,593.9 540.4,597.0 540.3,598.0" fill="none" stroke="#08260c" stroke-width="1.8"/>
<path d="M556.7,658.3 C558.4,656.9 562.3,653.0 566.7,650.0 C571.1,647.0 577.8,643.3 583.3,640.0 C588.8,636.7 595.0,633.6 600.0,630.0 C605.0,626.4 609.4,622.5 613.3,618.3 C617.2,614.1 621.2,607.8 623.3,605.0 C625.4,602.2 625.4,602.2 625.8,601.7" fill="none" stroke="#0a4216" stroke-width="1.2"/>
<path d="M625.8,601.7 C626.5,600.0 629.0,595.3 630.0,591.7 C631.0,588.1 631.2,583.6 631.7,580.0 C632.2,576.4 633.1,575.3 632.9,570.0 C632.7,564.7 631.6,554.9 630.6,548.2 C629.6,541.5 628.1,536.3 626.7,529.6 C625.3,522.9 623.6,513.2 622.0,507.8 C620.4,502.4 618.1,498.7 617.3,496.9" fill="none" stroke="#0c5a1c" stroke-width=".9"/>
</g>
<g id="detail" clip-path="url(#cCirc)">
  <rect x="150" y="810" width="210" height="215" fill="url(#gWall)"/>
  <rect x="150" y="810" width="210" height="215" fill="url(#carbon)"/>
  <ellipse cx="318" cy="905" rx="42" ry="34" fill="#7a7a7a" opacity=".5" filter="url(#b10)"/>
  <!-- diamond grid -->
  <g stroke="#111" stroke-width="1.1" opacity=".8" fill="none">
    <path d="M150,870 L360,1000 M180,850 L360,960 M215,850 L360,925 M150,905 L330,1020 M150,940 L280,1020 M260,852 L360,895"/>
    <path d="M360,862 L150,975 M360,900 L160,1010 M360,940 L230,1015 M330,850 L150,940 M280,850 L150,905 M230,850 L150,880"/>
  </g>
  <!-- rim area -->
  <path d="M150,810 L360,810 L360,870 C300,843 220,843 150,876Z" fill="#1b1b1b"/>
  <path d="M150,868 C220,835 300,835 360,862 L360,872 C300,845 220,845 150,878Z" fill="#090909" filter="url(#b1)"/>
  <!-- white logo stripes -->
  <path d="M166.300,884.700 L185,877.700 L202.500,878.800 L171,894 L161.700,896.300Z" fill="#d6d6d6"/>
  <path d="M157,903.300 L182.700,894 L164,912.700 L155.800,919.700Z" fill="#c9c9c9"/>
  <!-- construction labels -->
  <path d="M213,880 L311,878.800 L299.300,897.500 L206,899.800Z" fill="#dedede"/>
  <path d="M202.500,904.500 L279.500,904.500 L269,922 L195.500,922Z" fill="#e0e0e0"/>
  <path d="M195.500,927.800 L252.700,929 L241,947.700 L188.500,944.200Z" fill="#e2e2e2"/>
  <g font-family="'Liberation Sans',sans-serif" font-weight="700" font-style="italic" font-size="13.5" fill="#141414">
    <text x="213.500" y="896.300" textLength="66" lengthAdjust="spacingAndGlyphs" transform="rotate(-1 213 896)">SUPERDH</text>
    <text x="203" y="918.800" textLength="51" lengthAdjust="spacingAndGlyphs">TL-EASY</text>
    <text x="193.500" y="941.800" textLength="25" lengthAdjust="spacingAndGlyphs" transform="rotate(2 193 941)">EVO</text>
  </g>
  <rect x="150" y="810" width="210" height="215" fill="url(#carbon)" opacity=".35"/>
  <!-- tread blocks at the bottom -->
  <path d="M150,962 C200,972 300,972 360,950 L360,1025 L150,1025Z" fill="#0e0e0e"/>
  <path d="M185,968.700 L215.300,973.300 L210.700,1003.700 L189.700,996.700Z" fill="#3a3a3a"/>
  <path d="M229.300,975.700 L259.700,975.700 L259.700,1008.300 L231.700,1008.300Z" fill="#3d3d3d"/>
  <path d="M273.700,975.700 L304,973.300 L301.700,1003.700 L276,1008.300Z" fill="#3a3a3a"/>
  <path d="M316,972 L340,966 L338,994 L318,1000Z" fill="#2c2c2c"/>
  <path d="M185,968.700 L215.300,973.300 L214.600,978 L185.800,973.500Z M229.300,975.700 L259.700,975.700 L259.700,980.500 L229.600,980.500Z M273.700,975.700 L304,973.300 L303.600,978 L273.900,980.500Z" fill="#525252"/>
  <path d="M192,975 L210,978 L207,998 L194,994Z M236,982 L254,982 L254,1003 L237,1003Z M280,982 L298,980 L296,999 L281,1002Z" fill="#191919"/>
  <rect x="150" y="810" width="210" height="215" fill="url(#gVig)"/>
</g>

<g id="callouts" stroke="#bdbdbd" stroke-width="1.8" fill="#d0d0d0" stroke-linecap="round">
  <line x1="565.600" y1="204.400" x2="497.800" y2="406.700"/>
  <line x1="261.700" y1="400" x2="366" y2="443.800"/>
  <line x1="261.700" y1="580" x2="405.600" y2="604"/>
  <line x1="261.700" y1="580" x2="406" y2="648.900"/>
  <line x1="302" y1="651" x2="252.900" y2="808.300"/>
  <line x1="654.300" y1="653.300" x2="599" y2="690"/>
  <line x1="573.700" y1="750.300" x2="627.300" y2="833.300"/>
  <g stroke="none">
    <circle cx="497.800" cy="406.700" r="4.300"/>
    <circle cx="366" cy="443.800" r="4.300"/>
    <circle cx="405.600" cy="604" r="4.300"/>
    <circle cx="406" cy="648.900" r="4.300"/>
    <circle cx="302" cy="651" r="4.300"/>
    <circle cx="599.200" cy="690" r="4.300"/>
    <circle cx="573.700" cy="750.300" r="4.300"/>
  </g>
</g>

</svg>
<div class="lbl" id="l1" style="left:566px;top:183px;">Aus stabilem Polyamid.</div>
<div class="lbl r" id="l2" style="right:645px;top:396.9px;"><span class="hd" style="color:#e0dc48">SNAKE SKIN</span>Stabile Gewebelage schützt<br>die Karkasse vor Schnitten.</div>
<div class="lbl r" id="l3" style="right:645px;top:575.9px;"><span class="hd" style="color:#5cb531">APEX</span>Zweilagiger Apex.<br>Extremer Durchschlagschutz,<br>Stabilisierung der Seitenwand.</div>
<div class="lbl" id="l4" style="left:661px;top:647.2px;letter-spacing:0.08px;"><span class="hd" style="color:#a3228f">CHAFER</span>Schützt den Kontaktbereich<br>Felge-Reifen.</div>
<div class="lbl" id="l5" style="left:627.5px;top:834.7px;">Kräftiger, faltbarer Kevlar-<span class="hd" style="color:#cfc68a">WULSTKERN</span></div>

</div>
</body>
</html>
